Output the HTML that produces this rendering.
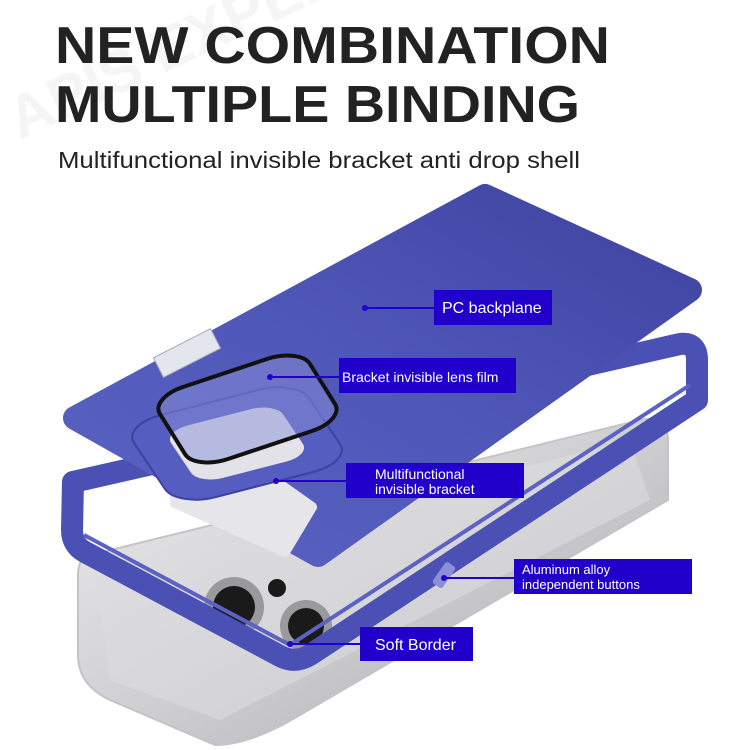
<!DOCTYPE html>
<html><head><style>
html,body{margin:0;padding:0;background:#fff;}
svg{display:block;}
text{font-family:"Liberation Sans",sans-serif;}
</style></head><body>
<svg width="750" height="750" viewBox="0 0 750 750" xmlns="http://www.w3.org/2000/svg">
<defs>
<linearGradient id="pl" x1="0" y1="1" x2="1" y2="0">
<stop offset="0" stop-color="#5a63c2"/><stop offset="0.5" stop-color="#4f57b8"/><stop offset="1" stop-color="#3f43a0"/>
</linearGradient>
<linearGradient id="ph" x1="0" y1="0" x2="1" y2="1">
<stop offset="0" stop-color="#eeeef0"/><stop offset="0.5" stop-color="#cfcfd2"/><stop offset="1" stop-color="#a7a7ab"/>
</linearGradient>
</defs>
<rect width="750" height="750" fill="#fff"/>
<text x="20" y="140" font-size="60" font-weight="bold" fill="#000" fill-opacity="0.04" transform="rotate(-25 20 140)">APIS EXPERT</text>
<text x="55" y="63" font-size="52" font-weight="bold" fill="#222" textLength="555" lengthAdjust="spacingAndGlyphs">NEW COMBINATION</text>
<text x="55" y="122" font-size="52" font-weight="bold" fill="#222" textLength="525" lengthAdjust="spacingAndGlyphs">MULTIPLE BINDING</text>
<text x="58" y="168" font-size="23" fill="#222" textLength="522" lengthAdjust="spacingAndGlyphs">Multifunctional invisible bracket anti drop shell</text>

<!-- phone underneath -->
<path d="M90,555 L640,420 Q668,414 668,440 L668,500 L300,715 Q250,745 215,745 L110,700 Q78,685 78,655 L78,575 Q78,558 90,555 Z" fill="url(#ph)" stroke="#c4c4c8" stroke-width="2"/>
<path d="M95,575 L630,440 L650,500 L220,720 L110,680 Z" fill="#dcdcdf" opacity="0.6"/>
<circle cx="234" cy="607" r="30" fill="#9a9a9e"/><circle cx="234" cy="607" r="21" fill="#1a1a1a"/>
<circle cx="306" cy="626" r="26" fill="#9a9a9e"/><circle cx="306" cy="626" r="18" fill="#1a1a1a"/>
<circle cx="277" cy="588" r="9" fill="#1a1a1a"/>

<!-- frame / bumper -->
<path d="M73,482 L680,344 Q697,342 697,360 L697,400 L310,655 Q295,664 280,656 L85,552 Q72,545 72,530 Z" fill="none" stroke="#4a50b4" stroke-width="22" stroke-linejoin="round"/>
<path d="M84,535 L290,645 L690,385" fill="none" stroke="#5b62c4" stroke-width="4"/>
<rect x="438" y="562" width="12" height="26" rx="3" fill="#8a8fd8" transform="rotate(35 444 575)"/>

<!-- backplate -->
<path d="M75,418 L485,196 L690,290 L318,555 Z" fill="url(#pl)" stroke="url(#pl)" stroke-width="24" stroke-linejoin="round"/>
<!-- hole in plate -->
<path d="M175,480 L250,463 L312,507 L285,552 L175,503 Z" fill="#e6e6ea" stroke="#e6e6ea" stroke-width="10" stroke-linejoin="round"/>
<!-- hinge -->
<rect x="155" y="342" width="64" height="22" fill="#e4e6ee" stroke="#aab" transform="rotate(-27 187 353)"/>
<!-- camera ring -->
<rect x="0" y="0" width="100" height="100" rx="22" fill="#565dc0" stroke="#3d41a2" stroke-width="2" vector-effect="non-scaling-stroke" transform="matrix(1.75,-0.45,0.55,0.82,122,425)"/>
<rect x="18" y="18" width="64" height="64" rx="14" fill="#e2e2e8" transform="matrix(1.75,-0.45,0.55,0.82,122,425)"/>
<!-- lens film -->
<rect x="0" y="0" width="100" height="100" rx="22" fill="#8a90d8" fill-opacity="0.5" stroke="#111" stroke-width="4" vector-effect="non-scaling-stroke" transform="matrix(1.5,-0.5,0.45,0.72,150,398)"/>

<!-- labels -->
<g fill="#2200cc">
<rect x="434" y="290" width="118" height="35"/>
<rect x="339" y="358" width="177" height="35"/>
<rect x="346" y="463" width="178" height="35"/>
<rect x="514" y="559" width="178" height="35"/>
<rect x="360" y="627" width="113" height="34"/>
</g>
<g stroke="#2200cc" stroke-width="2">
<line x1="365" y1="308" x2="434" y2="308"/>
<line x1="270" y1="377" x2="339" y2="377"/>
<line x1="276" y1="481" x2="346" y2="481"/>
<line x1="444" y1="578" x2="514" y2="578"/>
<line x1="290" y1="644" x2="360" y2="644"/>
</g>
<g fill="#2200cc">
<circle cx="365" cy="308" r="3"/><circle cx="270" cy="377" r="3"/><circle cx="276" cy="481" r="3"/><circle cx="444" cy="578" r="3"/><circle cx="290" cy="644" r="3"/>
</g>
<g fill="#fff">
<text x="442" y="313" font-size="16">PC backplane</text>
<text x="342" y="382" font-size="14">Bracket invisible lens film</text>
<text x="375" y="479" font-size="14">Multifunctional</text>
<text x="375" y="494" font-size="14">invisible bracket</text>
<text x="522" y="574" font-size="13">Aluminum alloy</text>
<text x="522" y="589" font-size="13">independent buttons</text>
<text x="375" y="650" font-size="16">Soft Border</text>
</g>
</svg>
</body></html>
